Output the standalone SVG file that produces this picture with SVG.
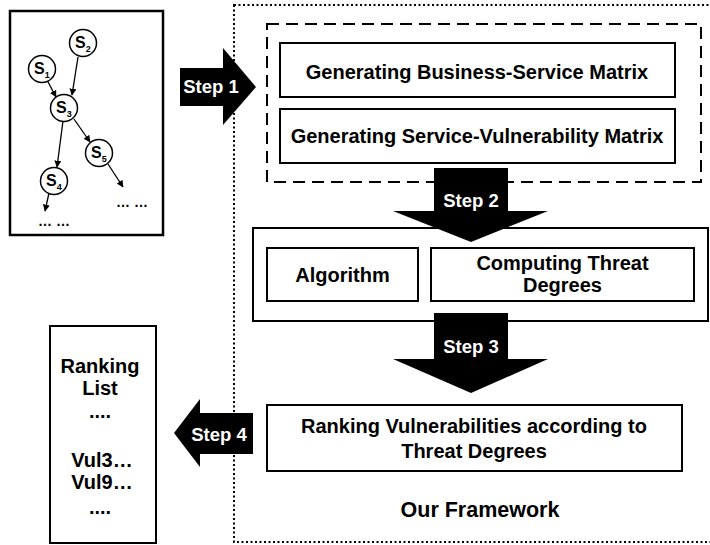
<svg xmlns="http://www.w3.org/2000/svg" width="710" height="545" viewBox="0 0 710 545">
<defs>
<style>
text{font-family:"Liberation Sans",Arial,sans-serif;font-weight:bold;fill:#000}
.box{fill:#fff;stroke:#000;stroke-width:2}
.big{font-size:20px}
.step{font-size:18.5px;fill:#fff;text-anchor:middle}
.arrow{fill:#000}
.node circle{fill:#fff;stroke:#000;stroke-width:1.5}
.node text{font-size:16px}
.node tspan.sub{font-size:9px}
.edge{stroke:#000;stroke-width:1.3;fill:none;marker-end:url(#ah)}
.mid{text-anchor:middle}
</style>
<marker id="ah" viewBox="0 0 10 10" refX="9" refY="5" markerWidth="7" markerHeight="7" markerUnits="userSpaceOnUse" orient="auto">
<path d="M0,0 L10,5 L0,10 z" fill="#000"/>
</marker>
</defs>
<rect width="710" height="545" fill="#fff"/>

<g id="frame">
<rect x="234" y="5" width="490" height="537" fill="none" stroke="#000" stroke-width="2" stroke-dasharray="2 2.5"/>
<text x="480" y="517" class="mid" style="font-size:21.5px">Our Framework</text>
</g>

<g id="service-graph">
<rect x="10" y="11" width="153" height="224" class="box" style="stroke-width:2.5"/>
<g class="connectors">
<line x1="78" y1="57" x2="72" y2="95" class="edge"/>
<line x1="47" y1="80" x2="56" y2="97" class="edge"/>
<line x1="63" y1="121" x2="57" y2="167" class="edge"/>
<line x1="74" y1="119" x2="90" y2="142" class="edge"/>
<line x1="108" y1="164" x2="123" y2="187" class="edge"/>
<line x1="49" y1="193" x2="45" y2="211" class="edge"/>
</g>
<g id="s1" class="node"><circle cx="42" cy="69" r="13.5"/><text x="34" y="74">S<tspan class="sub" dy="4">1</tspan></text></g>
<g id="s2" class="node"><circle cx="83" cy="43" r="13.5"/><text x="75" y="48">S<tspan class="sub" dy="4">2</tspan></text></g>
<g id="s3" class="node"><circle cx="64" cy="108" r="13.5"/><text x="56" y="113">S<tspan class="sub" dy="4">3</tspan></text></g>
<g id="s4" class="node"><circle cx="54" cy="181" r="13.5"/><text x="46" y="186">S<tspan class="sub" dy="4">4</tspan></text></g>
<g id="s5" class="node"><circle cx="99" cy="153" r="13.5"/><text x="91" y="158">S<tspan class="sub" dy="4">5</tspan></text></g>
<text x="132" y="207" class="mid" style="font-size:14px">… …</text>
<text x="54" y="226" class="mid" style="font-size:14px">… …</text>
</g>

<g id="step1"><polygon class="arrow" points="180,68 223,68 223,48 256,87 223,125 223,106 180,106"/><text x="211" y="93" class="step">Step 1</text></g>

<g id="matrix-group">
<rect x="267" y="24" width="434" height="158" fill="none" stroke="#000" stroke-width="2" stroke-dasharray="12 7"/>
</g>
<g id="bs-matrix"><rect x="280" y="43" width="395" height="54" class="box"/><text x="477" y="79" class="big mid">Generating Business-Service Matrix</text></g>
<g id="sv-matrix"><rect x="280" y="109" width="395" height="54" class="box"/><text x="477" y="143" class="big mid">Generating Service-Vulnerability Matrix</text></g>

<g id="compute-group"><rect x="253" y="228" width="455" height="93" class="box"/></g>
<g id="algorithm"><rect x="267" y="248" width="151" height="53" class="box"/><text x="342.5" y="282" class="big mid">Algorithm</text></g>
<g id="computing"><rect x="431" y="248" width="263" height="53" class="box"/><text x="562.5" y="270" class="big mid">Computing Threat</text><text x="562.5" y="292" class="big mid">Degrees</text></g>

<g id="step2"><polygon class="arrow" points="434,168 508,168 508,211 548,211 471,242 393,211 434,211"/><text x="471" y="207" class="step">Step 2</text></g>
<g id="step3"><polygon class="arrow" points="434,313 508,313 508,359 548,359 471,393 393,359 434,359"/><text x="471" y="353" class="step">Step 3</text></g>

<g id="ranking"><rect x="267" y="405" width="415" height="66" class="box"/><text x="474" y="433" class="big mid">Ranking Vulnerabilities according to</text><text x="474" y="458" class="big mid">Threat Degrees</text></g>

<g id="step4"><polygon class="arrow" points="253,413 200,413 200,399 174,433 200,467 200,454 253,454"/><text x="219" y="441" class="step">Step 4</text></g>

<g id="ranking-list"><rect x="50" y="326" width="106" height="217" class="box"/>
<text x="100" y="373" class="big mid">Ranking</text>
<text x="100" y="395" class="big mid">List</text>
<text x="100" y="418" class="big mid">....</text>
<text x="102" y="467" class="big mid">Vul3…</text>
<text x="102" y="489" class="big mid">Vul9…</text>
<text x="100" y="514" class="big mid">....</text>
</g>
</svg>
